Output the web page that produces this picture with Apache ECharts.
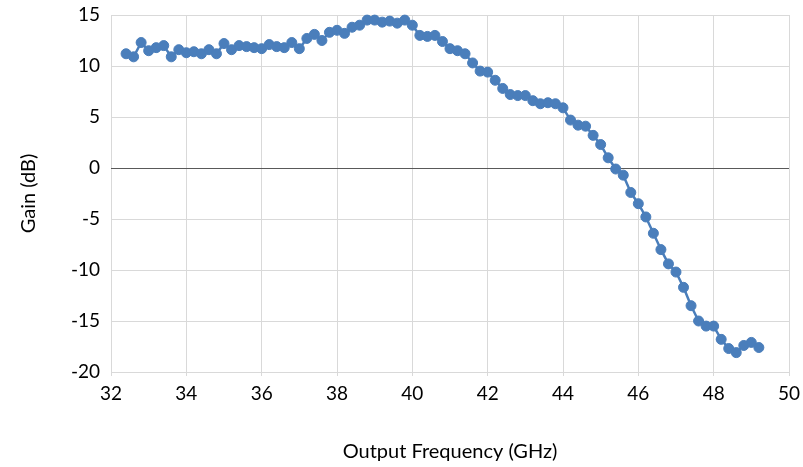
<!DOCTYPE html>
<html>
<head>
<meta charset="utf-8">
<script src="https://cdn.jsdelivr.net/npm/echarts@6/dist/echarts.min.js"></script>
<style>
  html, body { margin: 0; padding: 0; background: #ffffff; }
  #chart { width: 803px; height: 467px; }
</style>
</head>
<body>
<div id="chart"></div>
<script>
// Measured gain vs. output frequency, 0.2 GHz steps from 32.4 to 49.2 GHz
const freqStart = 32.4;
const freqStep = 0.2;
const gainDb = [
  11.2, 10.9, 12.3, 11.5, 11.8, 12.0, 10.9, 11.6, 11.3, 11.4,
  11.2, 11.6, 11.2, 12.2, 11.6, 12.0, 11.9, 11.8, 11.7, 12.1,
  11.9, 11.8, 12.3, 11.7, 12.7, 13.1, 12.5, 13.3, 13.5, 13.2,
  13.8, 14.0, 14.5, 14.5, 14.3, 14.4, 14.2, 14.5, 14.0, 13.0,
  12.9, 13.0, 12.4, 11.7, 11.5, 11.2, 10.3, 9.5, 9.4, 8.6,
  7.8, 7.2, 7.1, 7.1, 6.6, 6.3, 6.4, 6.3, 5.9, 4.7,
  4.2, 4.1, 3.2, 2.3, 1.0, -0.1, -0.7, -2.4, -3.5, -4.8,
  -6.4, -8.0, -9.4, -10.2, -11.7, -13.5, -15.0, -15.5, -15.5, -16.8,
  -17.7, -18.1, -17.4, -17.1, -17.6
];
const xTicks = { min: 32, max: 50, interval: 2 };
const yTicks = { min: -20, max: 15, interval: 5 };

const points = gainDb.map((g, i) => [+(freqStart + i * freqStep).toFixed(1), g]);

const font = 'Lato, "Open Sans", "Liberation Sans", sans-serif';
const chart = echarts.init(document.getElementById('chart'), null, { renderer: 'canvas' });
chart.setOption({
  animation: false,
  backgroundColor: '#ffffff',
  grid: { left: 111, right: 13, top: 15, bottom: 90, containLabel: false },
  xAxis: {
    type: 'value',
    min: xTicks.min, max: xTicks.max, interval: xTicks.interval,
    name: 'Output Frequency (GHz)',
    nameLocation: 'middle',
    nameGap: 70,
    nameTextStyle: { fontFamily: font, fontSize: 20, color: '#000000' },
    axisLine: { show: false, onZero: false },
    axisTick: { show: true, length: 4, lineStyle: { color: '#d9d9d9' } },
    axisLabel: { fontFamily: font, fontSize: 19, color: '#000000', margin: 12 },
    splitLine: { show: true, lineStyle: { color: '#d9d9d9', width: 1 } }
  },
  yAxis: {
    type: 'value',
    min: yTicks.min, max: yTicks.max, interval: yTicks.interval,
    name: 'Gain (dB)',
    nameLocation: 'middle',
    nameGap: 72,
    nameTextStyle: { fontFamily: font, fontSize: 20, color: '#000000' },
    axisLine: { show: false },
    axisTick: { show: false },
    axisLabel: { fontFamily: font, fontSize: 19, color: '#000000', margin: 11 },
    splitLine: { show: true, lineStyle: { color: '#d9d9d9', width: 1 } }
  },
  series: [{
    type: 'line',
    data: points,
    symbol: 'circle',
    symbolSize: 10,
    showSymbol: true,
    lineStyle: { color: '#4a7ebb', width: 2.5 },
    itemStyle: { color: '#4a7ebb', borderColor: '#4a7ebb' },
    markLine: {
      silent: true,
      symbol: ['none', 'none'],
      label: { show: false },
      lineStyle: { color: '#595959', width: 1.2, type: 'solid' },
      data: [{ yAxis: 0 }],
      z: 1
    },
    z: 3
  }]
});
</script>
</body>
</html>
